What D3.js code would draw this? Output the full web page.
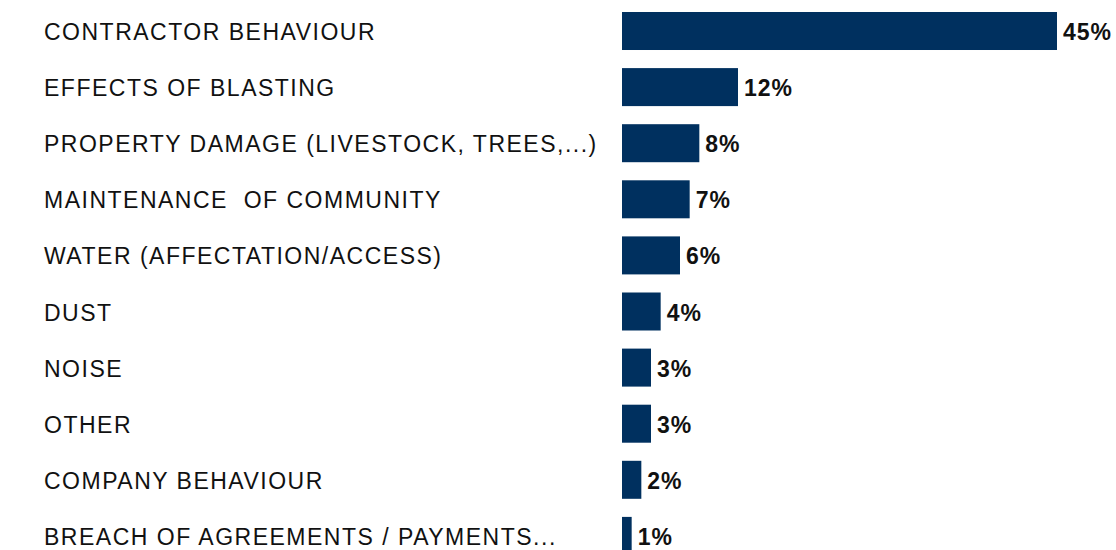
<!DOCTYPE html>
<html><head><meta charset="utf-8">
<script src="https://cdn.jsdelivr.net/npm/d3@7"></script>
<style>body{margin:0;background:#fff}svg{display:block}</style>
</head><body><svg id="c" width="1116" height="550"></svg>
<script>
const categories = ["CONTRACTOR BEHAVIOUR","EFFECTS OF BLASTING","PROPERTY DAMAGE (LIVESTOCK, TREES,...)","MAINTENANCE  OF COMMUNITY","WATER (AFFECTATION/ACCESS)","DUST","NOISE","OTHER","COMPANY BEHAVIOUR","BREACH OF AGREEMENTS / PAYMENTS..."];
const values = [45,12,8,7,6,4,3,3,2,1];
const valueLabels = ["45%","12%","8%","7%","6%","4%","3%","3%","2%","1%"];

const svg = d3.select("#c");
const x = d3.scaleLinear().domain([0,45]).range([622,1057]);
const step = 56.1, pad = 0.3226;
const y = d3.scaleBand().domain(categories).range([12, 12 + step*(categories.length - pad)]).paddingInner(pad).paddingOuter(0);
const font = "'Liberation Sans', Arial, sans-serif";

svg.selectAll("rect.bar").data(values).join("rect")
  .attr("class","bar")
  .attr("x", x(0))
  .attr("y",(d,i)=>y(categories[i]))
  .attr("width", d=>x(d)-x(0))
  .attr("height", y.bandwidth())
  .attr("fill","#00305f");

svg.selectAll("text.cat").data(categories).join("text")
  .attr("class","cat")
  .attr("x",44)
  .attr("y",d=>y(d)+28)
  .style("font-family",font).style("font-size","23px").style("letter-spacing","1.5px").attr("fill","#111")
  .style("white-space","pre")
  .text(d=>d);

svg.selectAll("text.val").data(values).join("text")
  .attr("class","val")
  .attr("x",d=>x(d)+6)
  .attr("y",(d,i)=>y(categories[i])+28)
  .style("font-family",font).style("font-size","23px").style("font-weight","bold").style("letter-spacing","1px").attr("fill","#111")
  .text((d,i)=>valueLabels[i]);
</script></body></html>
